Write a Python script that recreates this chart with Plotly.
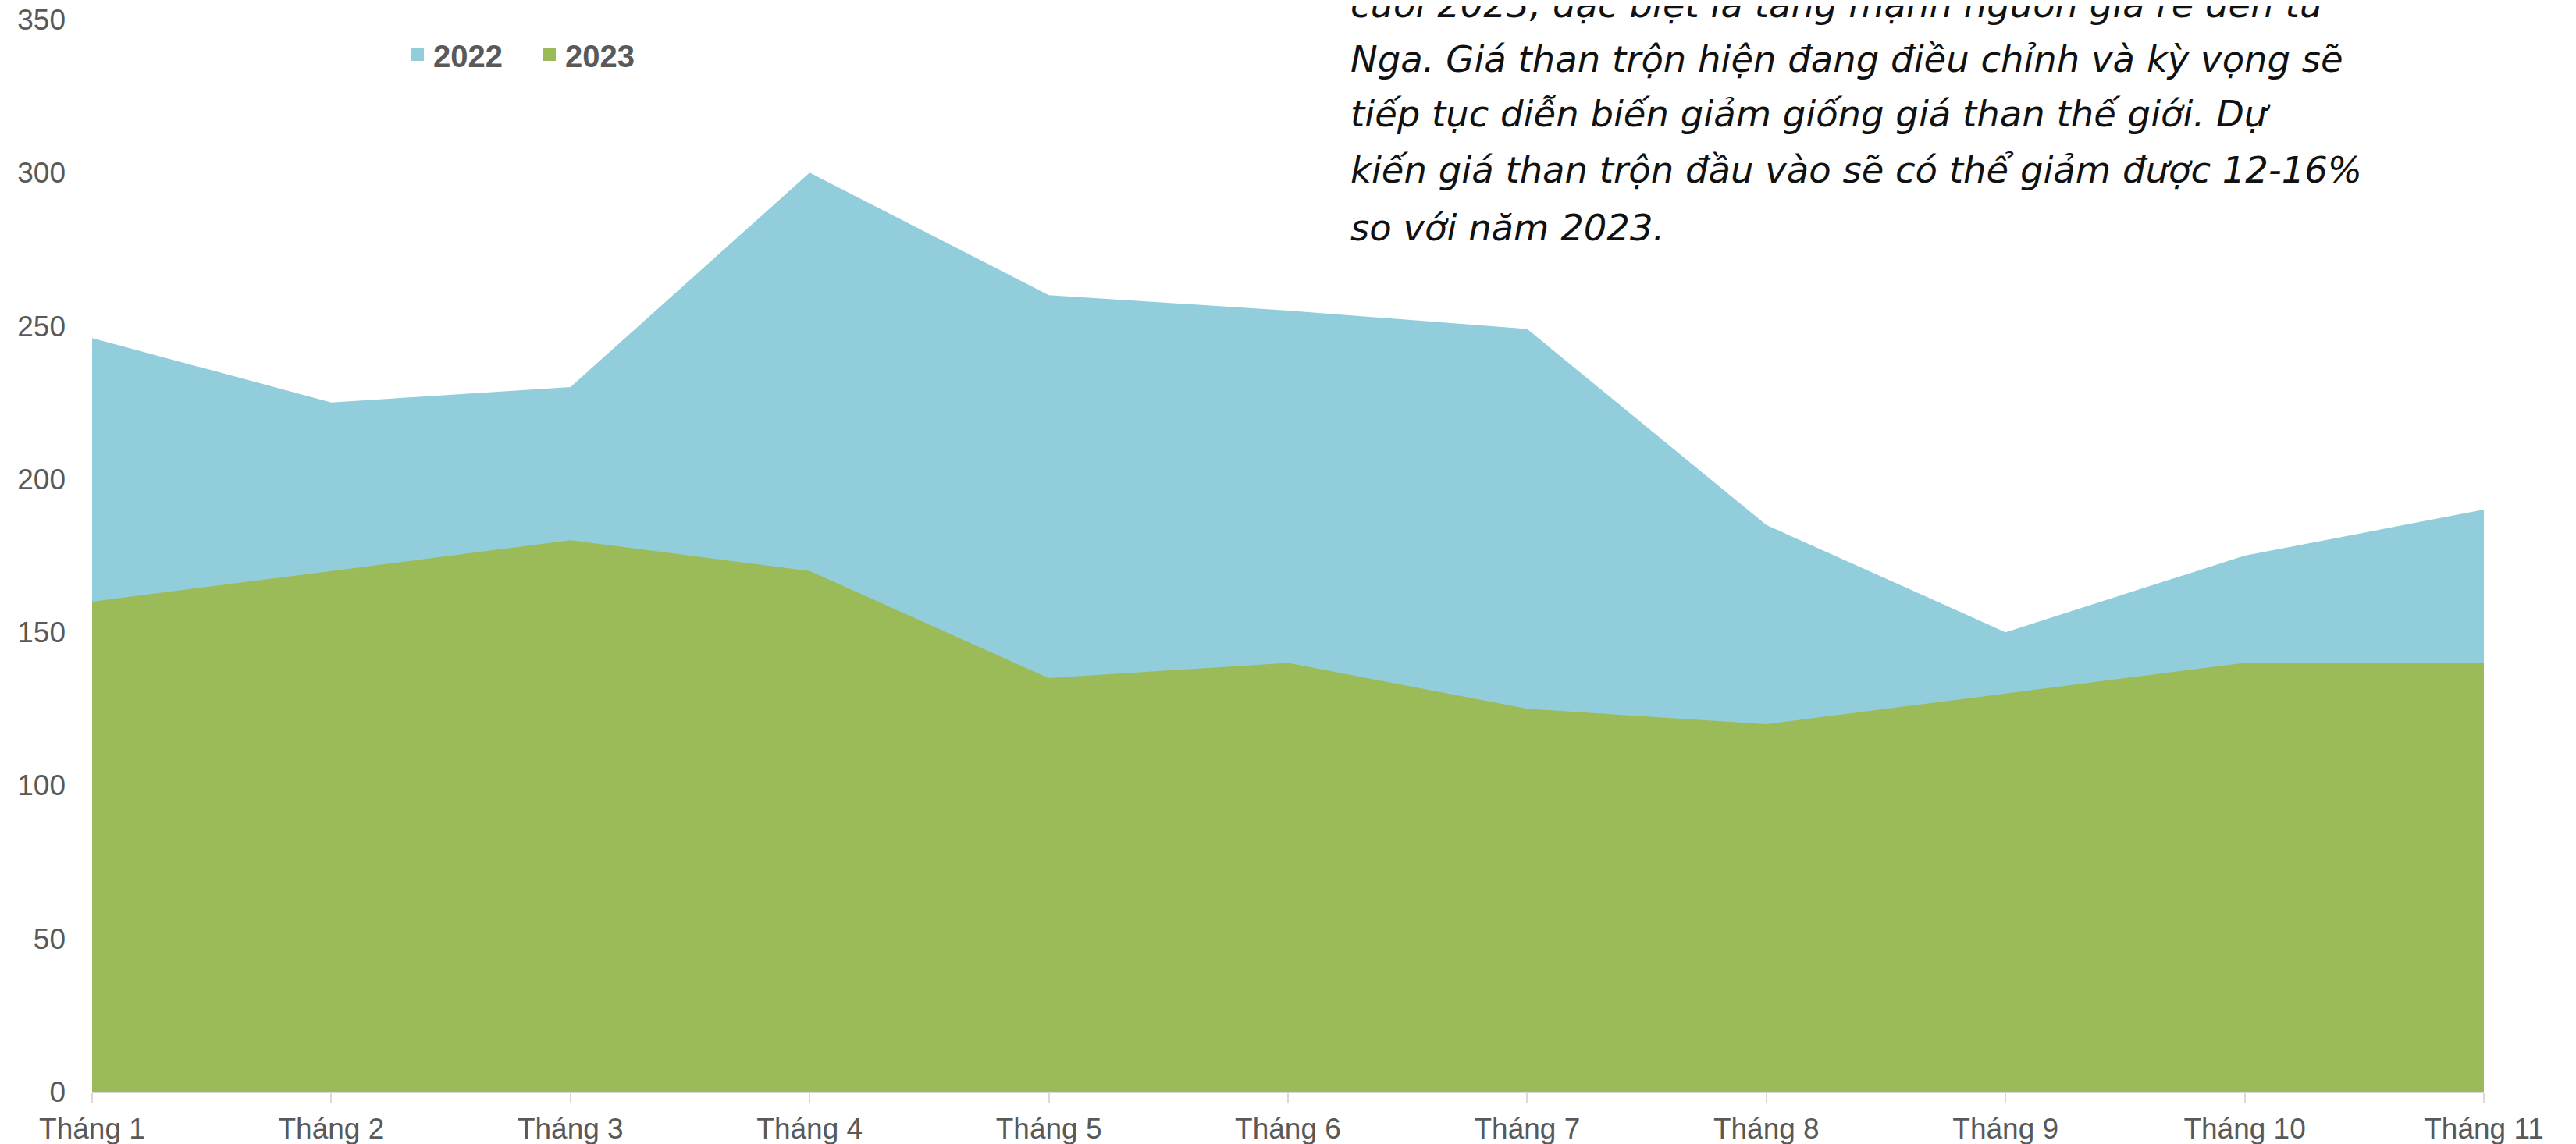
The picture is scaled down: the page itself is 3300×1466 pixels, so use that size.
"""Area chart: gia than tron 2022 vs 2023 theo thang"""

import plotly.graph_objects as go

# the page body adds an 8px margin, so the figure is drawn 8px smaller and
# every page-pixel position is shifted back by that offset
PAGE_W, PAGE_H = 3300, 1466
OFFSET = 8
WIDTH, HEIGHT = PAGE_W - OFFSET, PAGE_H - OFFSET
LEFT, RIGHT, TOP, BOTTOM = 118 - OFFSET, 118, 25 - OFFSET, 67

BLUE = "#92CDDC"
GREEN = "#9BBB59"
GREY = "#595959"
AXIS_GREY = "#D9D9D9"
AXIS_FONT = "Liberation Sans, Arial, sans-serif"
NOTE_FONT = "DejaVu Sans, sans-serif"

months = [
    "Tháng 1", "Tháng 2", "Tháng 3", "Tháng 4", "Tháng 5", "Tháng 6",
    "Tháng 7", "Tháng 8", "Tháng 9", "Tháng 10", "Tháng 11",
]
price_2022 = [246, 225, 230, 300, 260, 255, 249, 185, 150, 175, 190]
price_2023 = [160, 170, 180, 170, 135, 140, 125, 120, 130, 140, 140]
y_ticks = [0, 50, 100, 150, 200, 250, 300, 350]

note_lines = [
    "cuối 2023, đặc biệt là tăng mạnh nguồn giá rẻ đến từ",
    "Nga. Giá than trộn hiện đang điều chỉnh và kỳ vọng sẽ",
    "tiếp tục diễn biến giảm giống giá than thế giới. Dự",
    "kiến giá than trộn đầu vào sẽ có thể giảm được 12-16%",
    "so với năm 2023.",
]
note_line_y = [6, 76, 146, 218, 292]


def paper_x(px):
    """Page pixel x -> paper fraction"""
    return (px - OFFSET - LEFT) / (WIDTH - LEFT - RIGHT)


def paper_y(py):
    """Page pixel y -> paper fraction"""
    return (HEIGHT - BOTTOM - (py - OFFSET)) / (HEIGHT - TOP - BOTTOM)


fig = go.Figure()

# areas overlap (not stacked): 2022 behind, 2023 in front
fig.add_trace(
    go.Scatter(
        x=months, y=price_2022, name="2022", mode="none",
        fill="tozeroy", fillcolor=BLUE, showlegend=False,
    )
)
fig.add_trace(
    go.Scatter(
        x=months, y=price_2023, name="2023", mode="none",
        fill="tozeroy", fillcolor=GREEN, showlegend=False,
    )
)

# legend entries as square keys
for name, color in (("2022", BLUE), ("2023", GREEN)):
    fig.add_trace(
        go.Scatter(
            x=[None], y=[None], mode="markers", name=f"<b>{name}</b>",
            marker=dict(symbol="square", size=16, color=color),
        )
    )

annotations = []
for text, y in zip(note_lines, note_line_y):
    annotations.append(
        dict(
            text=f"<i>{text}</i>", xref="paper", yref="paper",
            x=paper_x(1728), y=paper_y(y), xanchor="left", yanchor="middle",
            showarrow=False, font=dict(family=NOTE_FONT, size=46.5, color="#111111"),
        )
    )

# stray full stop left over from cropped text above the chart
annotations.append(
    dict(
        text=".", xref="paper", yref="paper", x=paper_x(506), y=paper_y(-6),
        xanchor="center", yanchor="middle", showarrow=False,
        font=dict(family=AXIS_FONT, size=30, color=GREY),
    )
)

fig.update_layout(
    width=WIDTH,
    height=HEIGHT,
    margin=dict(l=LEFT, r=RIGHT, t=TOP, b=BOTTOM, autoexpand=False),
    plot_bgcolor="white",
    paper_bgcolor="white",
    showlegend=True,
    legend=dict(
        orientation="h",
        x=paper_x(534 - 19),
        xanchor="left",
        y=paper_y(70),
        yanchor="middle",
        font=dict(family=AXIS_FONT, size=40, color=GREY),
        bgcolor="rgba(0,0,0,0)",
        entrywidth=124,
    ),
    annotations=annotations,
)

fig.update_xaxes(
    type="category",
    range=[0, len(months) - 1],
    showgrid=False,
    showline=True,
    linecolor=AXIS_GREY,
    linewidth=2,
    ticks="outside",
    ticklen=12,
    tickwidth=2,
    tickcolor=AXIS_GREY,
    tickfont=dict(family=AXIS_FONT, size=37, color=GREY),
    ticklabelstandoff=2,
)
fig.update_yaxes(
    range=[0, 350],
    tickvals=y_ticks,
    showgrid=False,
    showline=False,
    zeroline=False,
    ticks="",
    tickfont=dict(family=AXIS_FONT, size=37, color=GREY),
    ticklabelstandoff=33,
    ticklabeloverflow="allow",
)

fig.write_html("out.html")
